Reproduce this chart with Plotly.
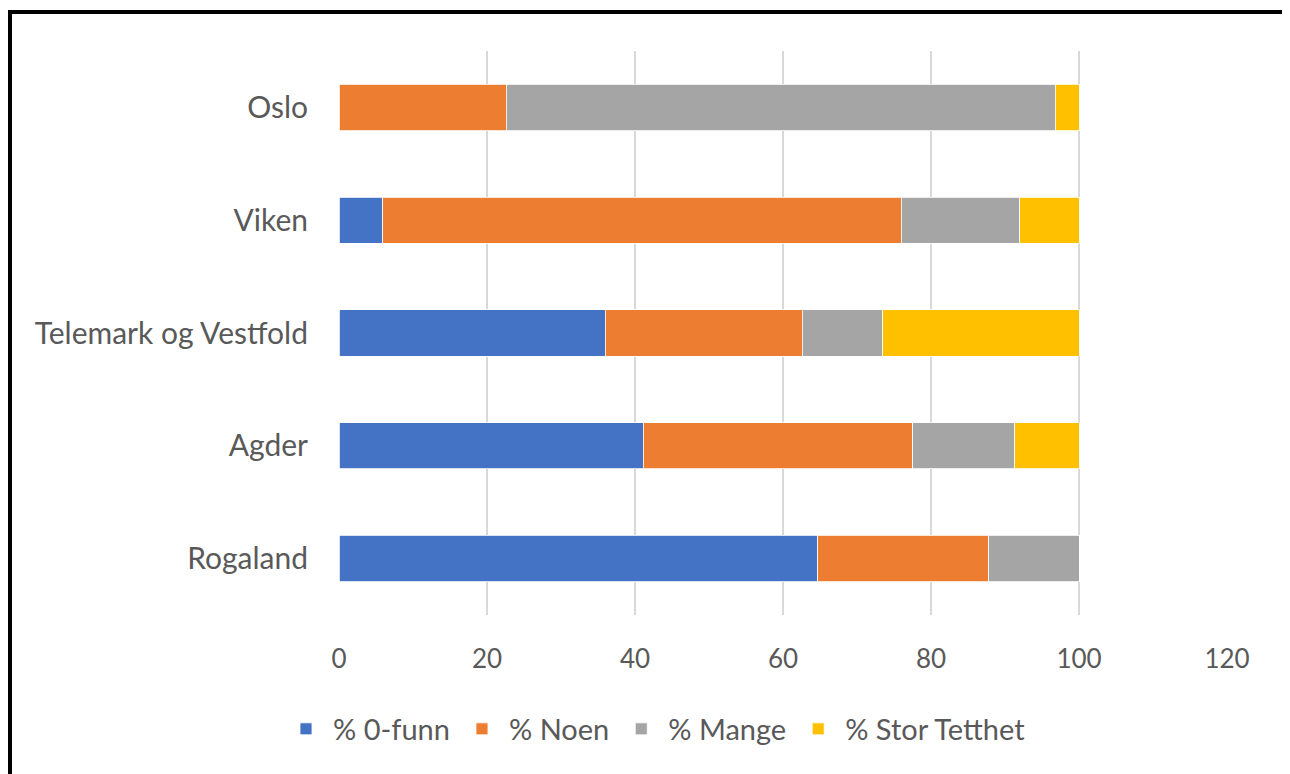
import plotly.graph_objects as go

# Fylker, top to bottom as shown
regions = ["Oslo", "Viken", "Telemark og Vestfold", "Agder", "Rogaland"]

null_funn = [0.0, 5.9, 36.0, 41.1, 64.7]
noen = [22.6, 70.1, 26.6, 36.4, 23.1]
mange = [74.2, 16.0, 10.9, 13.8, 12.2]
stor_tetthet = [3.2, 8.0, 26.5, 8.7, 0.0]

series_names = ["% 0-funn", "% Noen", "% Mange", "% Stor Tetthet"]
series_values = [null_funn, noen, mange, stor_tetthet]
colors = ["#4472c4", "#ed7d31", "#a5a5a5", "#ffc000"]

x_ticks = [0, 20, 40, 60, 80, 100, 120]

W, H = 1290, 774
OFF = 8  # page body margin
L, R, T, B = 339 - OFF, 1227 - OFF, 51 - OFF, 615 - OFF  # plot area in figure pixels


def px(x):
    return (x - OFF - L) / (R - L)


def py(y):
    return (B - (y - OFF)) / (B - T)


fig = go.Figure()
for name, vals, col in zip(series_names, series_values, colors):
    fig.add_trace(go.Bar(
        x=vals,
        y=regions,
        orientation="h",
        name=name,
        marker=dict(color=col, line=dict(color="white", width=0.8)),
    ))

fig.update_layout(
    barmode="stack",
    bargap=0.59,
    width=W,
    height=H,
    margin=dict(l=L, r=W - R, t=T, b=H - B),
    paper_bgcolor="white",
    plot_bgcolor="white",
    font=dict(family="Lato, Carlito, Calibri, sans-serif", size=26, color="#595959"),
    xaxis=dict(
        range=[0, 120],
        tickvals=x_ticks,
        showgrid=True,
        gridcolor="#d9d9d9",
        gridwidth=2,
        zeroline=False,
        showline=False,
        ticks="",
        ticklabelstandoff=26,
    ),
    yaxis=dict(
        autorange="reversed",
        showgrid=False,
        showline=False,
        ticks="",
        ticklabelstandoff=30,
        tickfont=dict(size=30),
    ),
    legend=dict(
        orientation="h",
        x=px(655),
        xanchor="center",
        y=py(729),
        yanchor="middle",
        font=dict(size=29),
        traceorder="normal",
        itemwidth=44,
    ),
    shapes=[dict(
        type="rect", xref="paper", yref="paper",
        x0=px(10), x1=px(1287), y0=py(790), y1=py(12),
        line=dict(color="black", width=4),
        fillcolor="rgba(0,0,0,0)",
        layer="above",
    )],
)

fig.write_html("out.html")
